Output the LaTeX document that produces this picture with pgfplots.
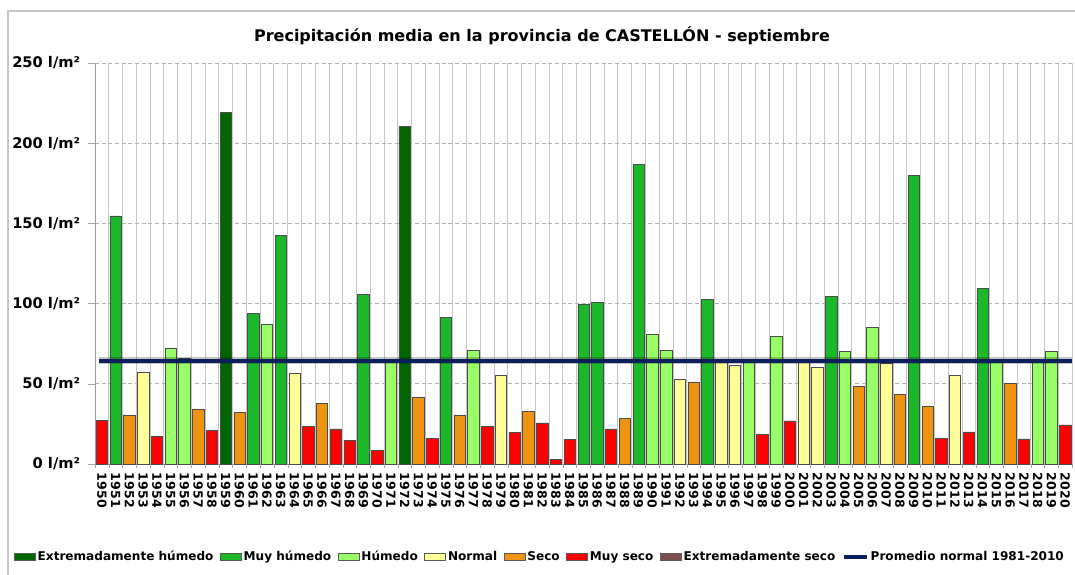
\documentclass[border=0pt]{standalone}
\usepackage{pgfplots}
\pgfplotsset{compat=1.18}
\usepackage{fontspec}
\setmainfont{DejaVu Sans}
\definecolor{exh}{HTML}{006600}
\definecolor{muyh}{HTML}{1BB82A}
\definecolor{hum}{HTML}{99FF66}
\definecolor{nor}{HTML}{FFFF99}
\definecolor{sec}{HTML}{EE9411}
\definecolor{muys}{HTML}{FF0000}
\definecolor{exs}{HTML}{7F4F4F}
\definecolor{prom}{HTML}{0B1F5C}
\begin{document}
\begin{tikzpicture}
\useasboundingbox (0,0) rectangle (806.25pt,431.25pt);
\draw[gray!45, line width=0.8pt] (6pt,0pt) -- (6pt,423pt) -- (806.25pt,423pt);
\begin{axis}[
  at={(71.25pt,83.25pt)}, anchor=south west,
  scale only axis, width=732.75pt, height=300.75pt,
  xmin=-0.5, xmax=70.5, ymin=0, ymax=250,
  ybar, bar width=0.83, bar shift=0pt,
  axis x line=bottom, axis y line=left,
  axis line style={-, gray!80},
  xtick={0,...,70},
  xticklabels={1950,1951,1952,1953,1954,1955,1956,1957,1958,1959,1960,1961,1962,1963,1964,1965,1966,1967,1968,1969,1970,1971,1972,1973,1974,1975,1976,1977,1978,1979,1980,1981,1982,1983,1984,1985,1986,1987,1988,1989,1990,1991,1992,1993,1994,1995,1996,1997,1998,1999,2000,2001,2002,2003,2004,2005,2006,2007,2008,2009,2010,2011,2012,2013,2014,2015,2016,2017,2018,2019,2020},
  x tick label style={rotate=-90, anchor=west, font=\bfseries\fontsize{9.4pt}{10pt}\selectfont, inner ysep=0pt, inner xsep=1.5pt},
  major x tick style={draw=none},
  minor xtick={-0.5,0.5,...,70.5},
  minor x tick style={gray!70},
  minor tick length=3pt,
  xminorgrids, minor x grid style={gray!45, line width=0.6pt},
  ytick={0,50,100,150,200,250},
  yticklabels={0 l/m², 50 l/m², 100 l/m², 150 l/m², 200 l/m², 250 l/m²},
  y tick label style={font=\bfseries\fontsize{11pt}{12pt}\selectfont, inner sep=0pt, xshift=-6pt},
  major y tick style={gray!70},
  major tick length=5pt,
  tick align=outside,
  ymajorgrids, major y grid style={gray!60, densely dashed, line width=0.5pt},
  title={Precipitación media en la provincia de CASTELLÓN - septiembre},
  title style={at={(0.4575,1.048)}, anchor=center, yshift=0pt, font=\bfseries\fontsize{12pt}{14pt}\selectfont},
  legend columns=-1,
  legend style={at={(0.4555,-0.232)}, anchor=center, draw=none, fill=none,
    font=\bfseries\fontsize{9.05pt}{11pt}\selectfont,
    /tikz/every even column/.append style={column sep=3.5pt},
    nodes={inner sep=1.5pt}},
  legend image code/.code={\draw[#1, draw=gray!70!black, line width=0.4pt] (0pt,-2.5pt) rectangle (15.75pt,2.5pt);},
  every axis plot/.append style={draw=gray!60!black, line width=0.4pt},
]
\addplot[fill=exh, draw=gray!60!black] coordinates {(9,219.4) (22,210.7)};
\addplot[fill=muyh, draw=gray!60!black] coordinates {(1,154.7) (11,93.9) (13,142.4) (19,105.7) (25,91.4) (35,99.3) (36,100.7) (39,186.9) (44,102.6) (53,104.3) (59,180.1) (64,109.3)};
\addplot[fill=hum, draw=gray!60!black] coordinates {(5,72.4) (6,66.2) (12,87.0) (21,65.0) (27,71.0) (40,80.8) (41,71.0) (47,65.0) (49,79.7) (54,70.4) (56,85.3) (65,65.0) (68,65.0) (69,70.4)};
\addplot[fill=nor, draw=gray!60!black] coordinates {(3,57.2) (14,56.8) (29,55.2) (42,53.1) (45,63.5) (46,61.4) (51,63.5) (52,60.6) (57,62.7) (62,55.6)};
\addplot[fill=sec, draw=gray!60!black] coordinates {(2,30.6) (7,34.3) (10,32.1) (16,37.7) (23,41.6) (26,30.6) (31,32.7) (38,28.3) (43,51.2) (55,48.5) (58,43.3) (60,36.0) (66,50.2)};
\addplot[fill=muys, draw=gray!60!black] coordinates {(0,27.1) (4,17.3) (8,20.8) (15,23.5) (17,21.9) (18,14.8) (20,8.3) (24,16.2) (28,23.5) (30,19.6) (32,25.6) (33,2.7) (34,15.2) (37,21.9) (48,18.3) (50,26.9) (61,16.2) (63,20.0) (67,15.6) (70,24.4)};
\addlegendimage{fill=exs}
\addplot[sharp plot, no markers, draw=black, opacity=0.22, line width=5.5pt, forget plot] coordinates {(-0.2,64.5) (70.5,64.5)};
\addplot[sharp plot, no markers, draw=prom, line width=3pt, legend image code/.code={\draw[prom, line width=3pt] (0pt,0pt) -- (17pt,0pt);}] coordinates {(-0.2,64.5) (70.5,64.5)};
\legend{Extremadamente húmedo, Muy húmedo, Húmedo, Normal, Seco, Muy seco, Extremadamente seco, Promedio normal 1981-2010}
\end{axis}
\end{tikzpicture}
\end{document}
